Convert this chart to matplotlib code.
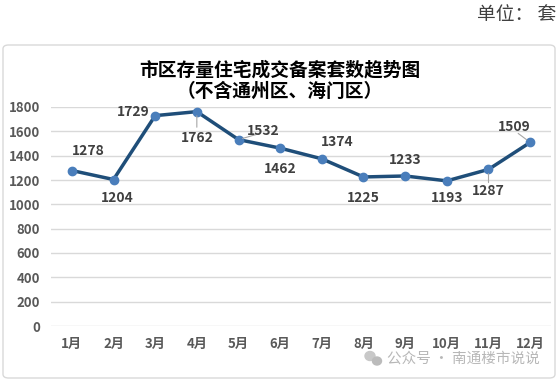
import matplotlib.pyplot as plt
from matplotlib.patches import FancyBboxPatch, Ellipse

plt.rcParams['font.family'] = ['Noto Sans CJK SC', 'DejaVu Sans']

months = ['1月', '2月', '3月', '4月', '5月', '6月', '7月', '8月', '9月', '10月', '11月', '12月']
sales = [1278, 1204, 1729, 1762, 1532, 1462, 1374, 1225, 1233, 1193, 1287, 1509]
# label offsets (pixels) and whether a leader line is drawn
offsets = [(16, 20), (4, -18), (-22, 4), (0, -26), (25, 9), (0, -21),
           (15, 17), (0, -21), (0, 16), (0, -17), (0, -22), (-16, 15)]
leaders = [False, False, False, True, True, False, False, False, False, False, True, True]

fig = plt.figure(figsize=(5.6, 3.81), dpi=100)

# chart frame
frame = FancyBboxPatch((3 / 560, 1 - 378 / 381), 552 / 560, 333 / 381,
                       boxstyle='round,pad=0,rounding_size=0.01',
                       transform=fig.transFigure, facecolor='white',
                       edgecolor='#D9D9D9', linewidth=1, zorder=-10)
fig.patches.append(frame)

ax = fig.add_axes([51 / 560, 1 - 326 / 381, 500 / 560, 219 / 381])
ax.set_facecolor('none')
x = list(range(len(months)))
ax.plot(x, sales, color='#1F4E79', linewidth=2.5, marker='o', markersize=6,
        markerfacecolor='#4A7EBB', markeredgecolor='#4A7EBB', zorder=3)

for i, v in enumerate(sales):
    dx, dy = offsets[i]
    ax.annotate(str(v), (i, v), xytext=(dx, dy), textcoords='offset pixels',
                ha='center', va='center', fontsize=10, fontweight='bold',
                color='#404040', zorder=4)
    if leaders[i]:
        ax.annotate('', (i, v), xytext=(dx * 0.75, dy * 0.6), textcoords='offset pixels',
                    arrowprops=dict(arrowstyle='-', color='#A6A6A6', lw=0.8,
                                    shrinkA=0, shrinkB=3))

ax.set_xlim(-0.5, len(months) - 0.5)
ax.set_ylim(0, 1800)
ax.set_yticks(range(0, 1801, 200))
ax.set_xticks(x)
ax.set_xticklabels(months)
ax.grid(axis='y', color='#D9D9D9', linewidth=1)
ax.set_axisbelow(True)
for s in ax.spines.values():
    s.set_visible(False)
ax.tick_params(length=0, labelsize=9.5, colors='#595959', pad=8)
for lbl in ax.get_xticklabels() + ax.get_yticklabels():
    lbl.set_fontweight('bold')

fig.text(0.5, 1 - 70 / 381, '市区存量住宅成交备案套数趋势图', ha='center', va='center',
         fontsize=13.5, fontweight='bold', color='black')
fig.text(0.5, 1 - 91 / 381, '（不含通州区、海门区）', ha='center', va='center',
         fontsize=13.5, fontweight='bold', color='black')
fig.text(556 / 560, 1 - 14 / 381, '单位： 套', ha='right', va='center',
         fontsize=13.5, color='#404040')

# watermark with a rough chat-bubble icon
fig.patches.append(Ellipse((370 / 560, 1 - 356 / 381), 10 / 560, 9 / 381,
                           transform=fig.transFigure, color='#C8C8C8', zorder=5))
fig.patches.append(Ellipse((377 / 560, 1 - 361 / 381), 9 / 560, 8 / 381,
                           transform=fig.transFigure, color='#BBBBBB', zorder=5))
fig.text(540 / 560, 1 - 359 / 381, '公众号 · 南通楼市说说', ha='right', va='center',
         fontsize=10.5, color='#B0B0B0', alpha=0.9)

fig.savefig('out.png', dpi=100)
